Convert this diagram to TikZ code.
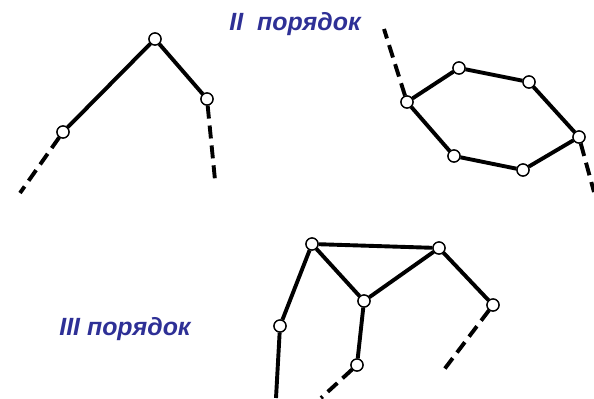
\documentclass[tikz,border=0pt]{standalone}
\usepackage{fontspec}
\setmainfont{Liberation Sans}
\begin{document}
\begin{tikzpicture}[x=1bp,y=-1bp,
  atom/.style={circle,draw=black,fill=white,line width=1.3bp,inner sep=0pt,minimum size=12bp},
  bond/.style={line width=3.9bp,black},
  tail/.style={line width=3.9bp,black,dash pattern=on 13bp off 7bp},
  order/.style={text={rgb,255:red,46;green,48;blue,150},anchor=base,inner sep=0pt,font=\fontsize{25}{29}\selectfont\bfseries\itshape}]
\useasboundingbox (0,0) rectangle (594,398);

% open chain
\node[atom] (a1) at (63,132) {};
\node[atom] (a2) at (155,39) {};
\node[atom] (a3) at (207,99) {};
\coordinate (a0) at (20,193);
\coordinate (a4) at (215,180);

% ring
\node[atom] (h1) at (407,102) {};
\node[atom] (h2) at (459,68) {};
\node[atom] (h3) at (529,82) {};
\node[atom] (h4) at (579,137) {};
\node[atom] (h5) at (523,170) {};
\node[atom] (h6) at (454,156) {};
\coordinate (h0) at (384,29);
\coordinate (h7) at (594,192);

% network
\node[atom] (p1) at (312,244) {};
\node[atom] (p2) at (439,248) {};
\node[atom] (p3) at (364,301) {};
\node[atom] (p4) at (493,305) {};
\node[atom] (p5) at (280,326) {};
\node[atom] (p6) at (357,365) {};
\coordinate (p5e) at (276,398);
\coordinate (p6e) at (321,398);
\coordinate (p4e) at (443,371);

% bonds
\draw[bond] (a1) -- (a2) -- (a3);
\draw[tail] (a1) -- (a0);
\draw[tail] (a3) -- (a4);

\draw[bond] (h1) -- (h2) -- (h3) -- (h4) -- (h5) -- (h6) -- (h1);
\draw[tail] (h1) -- (h0);
\draw[tail] (h4) -- (h7);

\draw[bond] (p1) -- (p2) -- (p3) -- (p1);
\draw[bond] (p2) -- (p4);
\draw[bond] (p1) -- (p5) -- (p5e);
\draw[bond] (p3) -- (p6);
\draw[tail] (p6) -- (p6e);
\draw[tail] (p4) -- (p4e);

% atoms drawn again over the bond ends
\foreach \n in {a1,a2,a3,h1,h2,h3,h4,h5,h6,p1,p2,p3,p4,p5,p6}
  \draw[line width=1.3bp,fill=white] (\n) circle (6bp);

\node[order] (t2) at (295,30) {II\ \ порядок};
\node[order] (t3) at (125,335) {III порядок};
\end{tikzpicture}
\end{document}
